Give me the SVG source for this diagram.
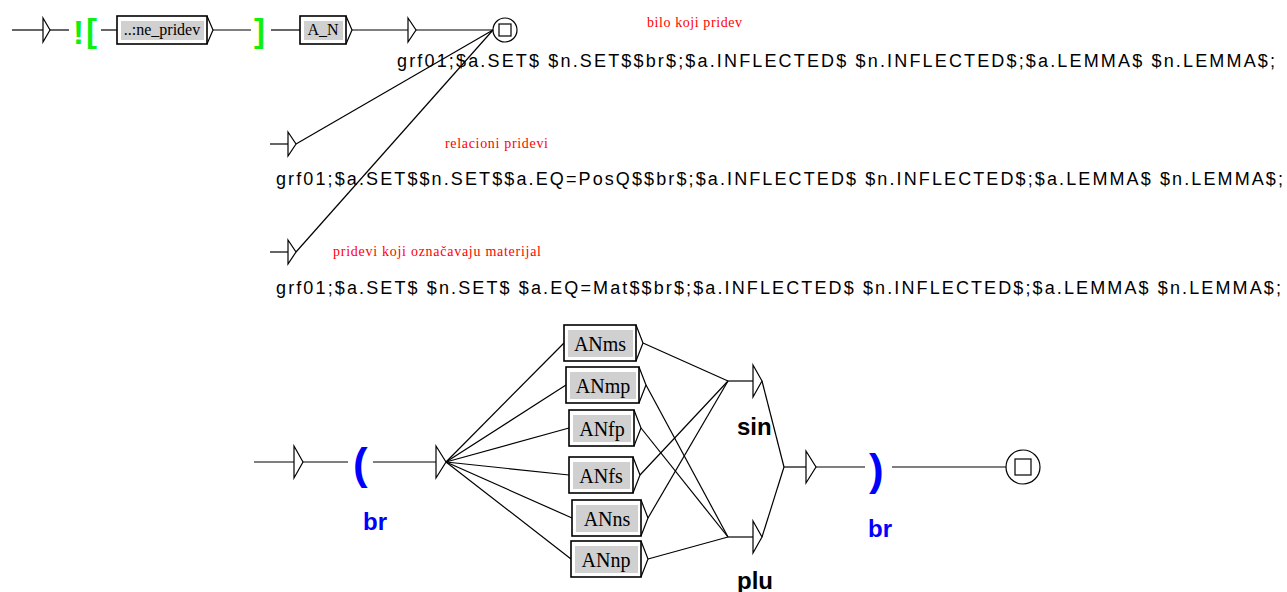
<svg xmlns="http://www.w3.org/2000/svg" width="1287" height="592" viewBox="0 0 1287 592">
  <style>
    .ln { stroke: #000; stroke-width: 1.2; fill: none; }
    .tri { stroke: #000; stroke-width: 1.2; fill: #fff; stroke-linejoin: miter; }
    .box { stroke: #000; stroke-width: 1.6; fill: #fff; }
    .fill { fill: #d0d0d0; stroke: none; }
    .arr { stroke: #000; stroke-width: 1.2; fill: none; }
    .lbl { font-family: "Liberation Serif", "Times New Roman", serif; fill: #000; text-anchor: middle; }
    .out { font-family: "Liberation Sans", Arial, sans-serif; font-size: 18px; fill: #000; }
    .cmt { font-family: "Liberation Serif", "Times New Roman", serif; font-size: 14px; fill: #ff0000; }
    .ctx { font-family: "Liberation Sans", Arial, sans-serif; font-weight: bold; font-size: 33px; fill: #10f010; }
    .var { font-family: "Liberation Sans", Arial, sans-serif; font-weight: bold; fill: #0000ff; }
    .name { font-family: "Liberation Sans", Arial, sans-serif; font-weight: bold; font-size: 24px; fill: #000; }
  </style>

  <!-- transitions -->
  <g id="connectors">
    <!-- upper graph -->
    <line class="ln" x1="12" y1="30" x2="43" y2="30"/>
    <line class="ln" x1="50" y1="30" x2="69" y2="30"/>
    <line class="ln" x1="101" y1="30" x2="117" y2="30"/>
    <line class="ln" x1="213" y1="30" x2="251" y2="30"/>
    <line class="ln" x1="271" y1="30" x2="300" y2="30"/>
    <line class="ln" x1="352" y1="30" x2="408" y2="30"/>
    <line class="ln" x1="416" y1="30" x2="493" y2="30"/>
    <line class="ln" x1="270" y1="144" x2="288" y2="144"/>
    <line class="ln" x1="296" y1="144" x2="493" y2="30"/>
    <line class="ln" x1="270" y1="252" x2="288" y2="252"/>
    <line class="ln" x1="296" y1="252" x2="493" y2="30"/>

    <!-- lower graph -->
    <line class="ln" x1="254" y1="462" x2="294" y2="462"/>
    <line class="ln" x1="303" y1="462" x2="348" y2="462"/>
    <line class="ln" x1="373" y1="462" x2="436" y2="462"/>
    <line class="ln" x1="446" y1="462" x2="564" y2="343"/>
    <line class="ln" x1="446" y1="462" x2="566" y2="385"/>
    <line class="ln" x1="446" y1="462" x2="569" y2="428"/>
    <line class="ln" x1="446" y1="462" x2="569" y2="475"/>
    <line class="ln" x1="446" y1="462" x2="572" y2="518"/>
    <line class="ln" x1="446" y1="462" x2="571" y2="559"/>
    <line class="ln" x1="643" y1="343" x2="728" y2="381"/>
    <line class="ln" x1="646" y1="385" x2="728" y2="537"/>
    <line class="ln" x1="641" y1="428" x2="728" y2="537"/>
    <line class="ln" x1="640" y1="475" x2="728" y2="381"/>
    <line class="ln" x1="648" y1="518" x2="728" y2="381"/>
    <line class="ln" x1="648" y1="559" x2="728" y2="537"/>
    <line class="ln" x1="728" y1="381" x2="753" y2="381"/>
    <line class="ln" x1="728" y1="537" x2="753" y2="537"/>
    <line class="ln" x1="762" y1="381" x2="784" y2="467"/>
    <line class="ln" x1="762" y1="537" x2="784" y2="467"/>
    <line class="ln" x1="784" y1="467" x2="806" y2="467"/>
    <line class="ln" x1="816" y1="467" x2="865" y2="467"/>
    <line class="ln" x1="892" y1="467" x2="1006" y2="467"/>
  </g>

  <!-- upper graph: initial state -->
  <g id="init-top">
    <polygon class="tri" points="43,18 50,30 43,42"/>
  </g>

  <!-- negative context start -->
  <g id="ctx-open">
    <text class="ctx" x="73" y="44">!</text>
    <text class="ctx" x="86" y="42">[</text>
  </g>

  <g id="box-ne-pridev">
    <rect class="box" x="117" y="16" width="90" height="28"/>
    <rect class="fill" x="121" y="21" width="83" height="19"/>
    <polyline class="arr" points="207,16 213,30 207,44"/>
    <text class="lbl" x="162" y="35" font-size="16">..:ne_pridev</text>
  </g>

  <g id="ctx-close">
    <text class="ctx" x="254" y="42">]</text>
  </g>

  <g id="box-a-n">
    <rect class="box" x="300" y="16" width="46" height="28"/>
    <rect class="fill" x="304" y="21" width="39" height="19"/>
    <polyline class="arr" points="346,16 352,30 346,44"/>
    <text class="lbl" x="323" y="35" font-size="16">A_N</text>
  </g>

  <!-- output boxes with their transducer outputs -->
  <g id="out-any">
    <polygon class="tri" points="408,18 416,30 408,42"/>
    <text class="cmt" x="647" y="27" textLength="95" lengthAdjust="spacing">bilo koji pridev</text>
    <text class="out" x="397" y="67" textLength="878" lengthAdjust="spacing">grf01;$a.SET$ $n.SET$$br$;$a.INFLECTED$ $n.INFLECTED$;$a.LEMMA$ $n.LEMMA$;</text>
  </g>

  <g id="out-relational">
    <polygon class="tri" points="288,132 296,144 288,156"/>
    <text class="cmt" x="445" y="148" textLength="103" lengthAdjust="spacing">relacioni pridevi</text>
    <text class="out" x="276" y="185" textLength="1007" lengthAdjust="spacing">grf01;$a.SET$$n.SET$$a.EQ=PosQ$$br$;$a.INFLECTED$ $n.INFLECTED$;$a.LEMMA$ $n.LEMMA$;</text>
  </g>

  <g id="out-material">
    <polygon class="tri" points="288,240 296,252 288,264"/>
    <text class="cmt" x="333" y="256" textLength="208" lengthAdjust="spacing">pridevi koji označavaju materijal</text>
    <text class="out" x="276" y="294" textLength="1005" lengthAdjust="spacing">grf01;$a.SET$ $n.SET$ $a.EQ=Mat$$br$;$a.INFLECTED$ $n.INFLECTED$;$a.LEMMA$ $n.LEMMA$;</text>
  </g>

  <g id="final-top">
    <circle cx="505" cy="30" r="12" class="ln"/>
    <rect x="499" y="24" width="12" height="12" class="ln"/>
  </g>

  <!-- lower graph -->
  <g id="init-bottom">
    <polygon class="tri" points="294,446 303,462 294,478"/>
  </g>

  <g id="var-open">
    <text class="var" x="353" y="479" font-size="44">(</text>
    <text class="var" x="363" y="530" font-size="24">br</text>
  </g>

  <g id="fork">
    <polygon class="tri" points="436,446 446,462 436,478"/>
  </g>

  <g id="box-anms">
    <rect class="box" x="564" y="325" width="72" height="36"/>
    <rect class="fill" x="568" y="330" width="65" height="27"/>
    <polyline class="arr" points="636,325 643,343 636,361"/>
    <text class="lbl" x="600" y="351" font-size="20">ANms</text>
  </g>

  <g id="box-anmp">
    <rect class="box" x="566" y="367" width="73" height="36"/>
    <rect class="fill" x="570" y="372" width="66" height="27"/>
    <polyline class="arr" points="639,367 646,385 639,403"/>
    <text class="lbl" x="603" y="393" font-size="20">ANmp</text>
  </g>

  <g id="box-anfp">
    <rect class="box" x="569" y="410" width="65" height="36"/>
    <rect class="fill" x="573" y="415" width="58" height="27"/>
    <polyline class="arr" points="634,410 641,428 634,446"/>
    <text class="lbl" x="602" y="436" font-size="20">ANfp</text>
  </g>

  <g id="box-anfs">
    <rect class="box" x="569" y="457" width="64" height="36"/>
    <rect class="fill" x="573" y="462" width="57" height="27"/>
    <polyline class="arr" points="633,457 640,475 633,493"/>
    <text class="lbl" x="601" y="483" font-size="20">ANfs</text>
  </g>

  <g id="box-anns">
    <rect class="box" x="572" y="500" width="69" height="36"/>
    <rect class="fill" x="576" y="505" width="62" height="27"/>
    <polyline class="arr" points="641,500 648,518 641,536"/>
    <text class="lbl" x="607" y="526" font-size="20">ANns</text>
  </g>

  <g id="box-annp">
    <rect class="box" x="571" y="541" width="70" height="36"/>
    <rect class="fill" x="575" y="546" width="63" height="27"/>
    <polyline class="arr" points="641,541 648,559 641,577"/>
    <text class="lbl" x="606" y="567" font-size="20">ANnp</text>
  </g>

  <g id="out-sin">
    <polygon class="tri" points="753,365 762,381 753,397"/>
    <text class="name" x="737" y="435">sin</text>
  </g>

  <g id="out-plu">
    <polygon class="tri" points="753,521 762,537 753,553"/>
    <text class="name" x="737" y="589">plu</text>
  </g>

  <g id="join">
    <polygon class="tri" points="806,451 816,467 806,483"/>
  </g>

  <g id="var-close">
    <text class="var" x="869" y="485" font-size="44">)</text>
    <text class="var" x="868" y="537" font-size="24">br</text>
  </g>

  <g id="final-bottom">
    <circle cx="1023" cy="467" r="17" class="ln"/>
    <rect x="1015" y="459" width="16" height="16" class="ln"/>
  </g>
</svg>
